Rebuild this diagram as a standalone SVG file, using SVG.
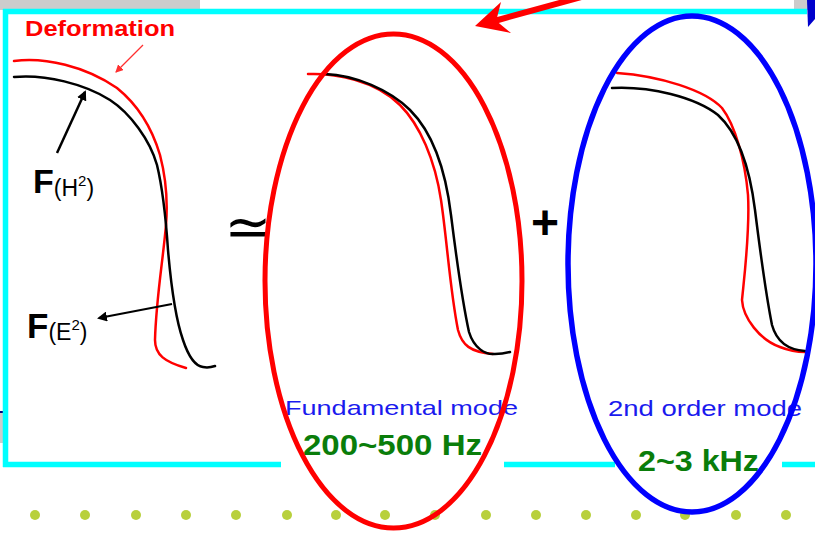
<svg xmlns="http://www.w3.org/2000/svg" width="815" height="533" viewBox="0 0 815 533">
<style>
.cy{stroke:#00ffff;stroke-width:5.5;fill:none}
.crv{fill:none;stroke-width:2.5;stroke-linecap:round;stroke-linejoin:round}
.r{stroke:#ff0000}
.k{stroke:#000000}
.dot{fill:#b8d03c}
.lbl{font-family:"Liberation Sans",Arial,sans-serif}
.blue{fill:#1a1aee}
.green{fill:#0a7d0a;font-weight:bold}
</style>
<defs>
<marker id="ak" markerWidth="10" markerHeight="10" refX="8" refY="5" orient="auto" markerUnits="userSpaceOnUse" viewBox="0 0 10 10">
<path d="M0,0 L10,5 L0,10 z" fill="#000"/>
</marker>
<marker id="ar" markerWidth="8" markerHeight="8" refX="7" refY="4" orient="auto" markerUnits="userSpaceOnUse" viewBox="0 0 8 8">
<path d="M0,0 L8,4 L0,8 z" fill="#ff3030"/>
</marker>
</defs>
<rect width="815" height="533" fill="#ffffff"/>
<rect x="0" y="0" width="200" height="10" fill="#cccccc"/>
<rect x="794" y="0" width="14" height="10" fill="#cccccc"/>
<rect x="0" y="413" width="4" height="30" fill="#cccccc"/>
<rect x="0" y="411" width="4" height="2" fill="#000080"/>
<polygon points="807,0 815,0 815,19 808,27" fill="#0000cc"/>

<g id="frame">
<line class="cy" x1="3" y1="11.5" x2="807" y2="11.5"/>
<line class="cy" x1="5.5" y1="9" x2="5.5" y2="467"/>
<line class="cy" x1="3" y1="464.5" x2="281" y2="464.5"/>
<line class="cy" x1="504" y1="464.5" x2="615" y2="464.5"/>
<line class="cy" x1="782" y1="464.5" x2="815" y2="464.5"/>
</g>

<g id="dots">
<circle class="dot" cx="35" cy="515" r="5"/>
<circle class="dot" cx="85" cy="515" r="5"/>
<circle class="dot" cx="136" cy="515" r="5"/>
<circle class="dot" cx="186" cy="515" r="5"/>
<circle class="dot" cx="236" cy="515" r="5"/>
<circle class="dot" cx="287" cy="515" r="5"/>
<circle class="dot" cx="336" cy="515" r="5"/>
<circle class="dot" cx="385" cy="515" r="5"/>
<circle class="dot" cx="435" cy="515" r="5"/>
<circle class="dot" cx="486" cy="515" r="5"/>
<circle class="dot" cx="536" cy="515" r="5"/>
<circle class="dot" cx="586" cy="515" r="5"/>
<circle class="dot" cx="636" cy="515" r="5"/>
<circle class="dot" cx="685" cy="515" r="5"/>
<circle class="dot" cx="736" cy="515" r="5"/>
<circle class="dot" cx="786" cy="515" r="5"/>
</g>

<g id="left-curves">
<path class="crv r" d="M14,61 C45,57 85,66 117,88 C138,105 152,128 160,155 C166,178 168,200 166,225 C163,260 156,300 155,340 C155,355 165,362 186,368"/>
<path class="crv k" d="M14,77 C45,74 85,84 110,100 C130,113 150,140 157,165 C163,190 166,220 168,250 C171,285 176,320 183,340 C188,355 195,366 203,367 C208,368 212,367 215,366"/>
</g>

<g id="deformation-label">
<text class="lbl" x="25" y="36" font-size="22" font-weight="bold" fill="#ff0000" textLength="150" lengthAdjust="spacingAndGlyphs">Deformation</text>
<line x1="143" y1="45" x2="116" y2="72" stroke="#ff3030" stroke-width="1.2" marker-end="url(#ar)"/>
</g>

<g id="fh2-label">
<text class="lbl" x="33" y="193" fill="#000"><tspan font-size="34" font-weight="bold">F</tspan><tspan font-size="23" dy="3">(H</tspan><tspan font-size="15" dy="-10">2</tspan><tspan font-size="23" dy="10">)</tspan></text>
<line x1="57" y1="153" x2="85" y2="92" stroke="#000" stroke-width="2.5" marker-end="url(#ak)"/>
</g>

<g id="fe2-label">
<text class="lbl" x="27" y="338" fill="#000"><tspan font-size="35" font-weight="bold">F</tspan><tspan font-size="23" dy="2">(E</tspan><tspan font-size="15" dy="-10">2</tspan><tspan font-size="23" dy="10">)</tspan></text>
<line x1="172" y1="304" x2="99" y2="318" stroke="#000" stroke-width="2" marker-end="url(#ak)"/>
</g>

<g id="approx">
<text x="248" y="246" font-family="DejaVu Sans,sans-serif" font-size="56" text-anchor="middle" fill="#000">≃</text>
</g>

<g id="plus">
<text class="lbl" x="545" y="239" font-size="48" font-weight="bold" text-anchor="middle" fill="#000">+</text>
</g>

<g id="fundamental">
<path class="crv r" d="M308,74 C335,73 375,80 400,105 C420,125 435,160 441,200 C447,240 450,290 458,330 C462,345 470,352 493,354"/>
<path class="crv k" d="M325,74 C355,75 390,90 410,110 C430,130 445,165 451,215 C456,255 462,300 469,332 C474,348 485,355 495,354 C502,354 506,353 510,352"/>
<text class="lbl blue" x="285" y="415" font-size="21" textLength="233" lengthAdjust="spacingAndGlyphs">Fundamental mode</text>
<text class="lbl green" x="303" y="455" font-size="29" textLength="179" lengthAdjust="spacingAndGlyphs">200~500 Hz</text>
<ellipse cx="393.5" cy="281" rx="128.5" ry="247" fill="none" stroke="#ff0000" stroke-width="5"/>
</g>

<g id="second-order">
<path class="crv r" d="M617,73 C660,76 705,90 722,108 C735,125 745,160 748,195 C750,230 745,270 742,300 C743,318 760,340 780,347 C790,351 798,352 805,352"/>
<path class="crv k" d="M612,88 C650,86 695,97 718,115 C740,135 750,170 755,210 C760,250 765,290 772,325 C777,343 790,350 805,351"/>
<text class="lbl blue" x="608" y="416" font-size="22" textLength="194" lengthAdjust="spacingAndGlyphs">2nd order mode</text>
<text class="lbl green" x="638" y="471" font-size="29" textLength="121" lengthAdjust="spacingAndGlyphs">2~3 kHz</text>
<ellipse cx="692" cy="264" rx="124" ry="248" fill="none" stroke="#0000ff" stroke-width="5.5"/>
</g>

<g id="connectors">
<polygon points="475,26 501,2 497.2,17.1 584.2,-6.9 585.8,-1.1 498.8,22.9 511,33" fill="#ff0000"/>
</g>
</svg>
